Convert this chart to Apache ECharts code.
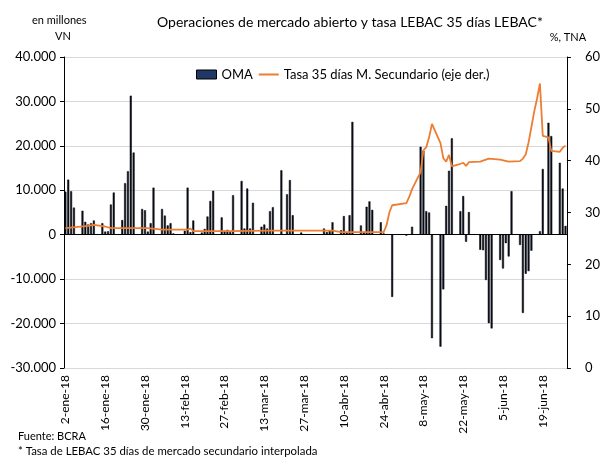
<!DOCTYPE html>
<html>
<head>
<meta charset="utf-8">
<script src="https://cdn.jsdelivr.net/npm/echarts@6/dist/echarts.min.js"></script>
<style>
  html, body { margin: 0; padding: 0; background: #fff; }
  #chart { width: 603px; height: 459px; }
</style>
</head>
<body>
<div id="chart"></div>
<script>
// Operaciones de mercado abierto (OMA) y tasa LEBAC 35 dias
var firstDay = '2018-01-02';
var lastDay = '2018-06-27';
var monthNames = ['ene', 'feb', 'mar', 'abr', 'may', 'jun', 'jul', 'ago', 'sep', 'oct', 'nov', 'dic'];

// OMA, en millones VN (dias habiles con operacion)
var omaDates = [
  '2018-01-02', '2018-01-03', '2018-01-04', '2018-01-05', '2018-01-08', '2018-01-09', '2018-01-10',
  '2018-01-11', '2018-01-12', '2018-01-15', '2018-01-16', '2018-01-17', '2018-01-18', '2018-01-19',
  '2018-01-22', '2018-01-23', '2018-01-24', '2018-01-25', '2018-01-26', '2018-01-29', '2018-01-30',
  '2018-01-31', '2018-02-01', '2018-02-02', '2018-02-05', '2018-02-06', '2018-02-07', '2018-02-08',
  '2018-02-09', '2018-02-13', '2018-02-14', '2018-02-15', '2018-02-16', '2018-02-19', '2018-02-20',
  '2018-02-21', '2018-02-22', '2018-02-23', '2018-02-26', '2018-02-27', '2018-02-28', '2018-03-01',
  '2018-03-02', '2018-03-05', '2018-03-06', '2018-03-07', '2018-03-08', '2018-03-09', '2018-03-12',
  '2018-03-13', '2018-03-14', '2018-03-15', '2018-03-16', '2018-03-19', '2018-03-21', '2018-03-22',
  '2018-03-23', '2018-03-26', '2018-04-03', '2018-04-04', '2018-04-05', '2018-04-06', '2018-04-09',
  '2018-04-10', '2018-04-11', '2018-04-12', '2018-04-13', '2018-04-16', '2018-04-17', '2018-04-18',
  '2018-04-19', '2018-04-20', '2018-04-23', '2018-04-24', '2018-04-27', '2018-05-02', '2018-05-04',
  '2018-05-07', '2018-05-08', '2018-05-09', '2018-05-10', '2018-05-11', '2018-05-14', '2018-05-15',
  '2018-05-16', '2018-05-17', '2018-05-18', '2018-05-21', '2018-05-22', '2018-05-23', '2018-05-24',
  '2018-05-28', '2018-05-29', '2018-05-30', '2018-05-31', '2018-06-01', '2018-06-04', '2018-06-05',
  '2018-06-06', '2018-06-07', '2018-06-08', '2018-06-11', '2018-06-12', '2018-06-13', '2018-06-14',
  '2018-06-15', '2018-06-18', '2018-06-19', '2018-06-21', '2018-06-22', '2018-06-25', '2018-06-26',
  '2018-06-27'
];
var omaValues = [
  9700, 12400, 9800, 6100, 5400, 2900, 2300,
  2600, 3200, 2600, 700, 800, 6800, 9500,
  3300, 11600, 14300, 31300, 18500, 5800, 5500,
  700, 2600, 10600, 5800, 4300, 2100, 2600,
  300, 900, 10600, 600, 3200, 500, 1300,
  4100, 7600, 9900, 3900, 900, 1100, 600,
  8900, 12100, 1400, 10400, 1400, 7200, 1800,
  2300, 1400, 5300, 6200, 14500, 9100, 12300,
  4400, 500, 1400, 600, 1000, 2800, 1000,
  4200, 500, 4400, 25400, 2100, 500, 6300,
  7500, 5600, 2800, 300, -14000, -200, 1800,
  19800, 18900, 5300, 5000, -23300, -25200, -12300,
  6500, 14400, 21700, 5300, 8700, -1600, 5100,
  -3400, -3500, -10200, -19900, -21100, -5700, -7600,
  -1900, -4900, 9800, -2300, -17600, -8800, -8200,
  -3600, 800, 14800, 25200, 22200, 16200, 10400,
  2000
];

// Tasa 35 dias M. Secundario, % TNA (puntos leidos)
var tasaDates = [
  '2018-01-02', '2018-01-10', '2018-01-12', '2018-01-16', '2018-01-18', '2018-01-31', '2018-02-05',
  '2018-02-14', '2018-02-15', '2018-02-16', '2018-03-01', '2018-03-15', '2018-04-06', '2018-04-09',
  '2018-04-24', '2018-04-25', '2018-04-26', '2018-04-27', '2018-05-02', '2018-05-03', '2018-05-04',
  '2018-05-07', '2018-05-08', '2018-05-09', '2018-05-10', '2018-05-11', '2018-05-14', '2018-05-15',
  '2018-05-16', '2018-05-17', '2018-05-18', '2018-05-21', '2018-05-22', '2018-05-23', '2018-05-24',
  '2018-05-28', '2018-05-31', '2018-06-04', '2018-06-07', '2018-06-11', '2018-06-12', '2018-06-13',
  '2018-06-14', '2018-06-15', '2018-06-16', '2018-06-17', '2018-06-18', '2018-06-19', '2018-06-21',
  '2018-06-22', '2018-06-25', '2018-06-26', '2018-06-27'
];
var tasaValues = [
  27.0, 27.4, 27.6, 27.3, 27.0, 27.0, 26.7,
  26.7, 26.9, 26.4, 26.4, 26.5, 26.5, 26.2,
  26.2, 27.5, 30.0, 31.4, 31.8, 33.0, 34.5,
  37.8, 42.0, 42.6, 44.5, 47.1, 43.4, 40.5,
  39.8, 41.1, 38.9, 39.4, 39.6, 39.0, 39.7,
  39.8, 40.4, 40.2, 39.8, 39.9, 40.4, 41.2,
  43.5, 46.5, 49.5, 52.0, 54.9, 44.8, 44.5,
  41.9, 41.7, 42.5, 42.9
];

var leftTicks = { min: -30000, max: 40000, interval: 10000 };
var rightTicks = { min: 0, max: 60, interval: 10 };

(function() {
  var myChart = echarts.init(document.getElementById('chart'), null, { renderer: 'canvas' });
  var font = 'Lato, "Open Sans", sans-serif';

  // categorias: todos los dias calendario
  var days = [], labels = [];
  var t = Date.parse(firstDay + 'T00:00:00Z');
  var tEnd = Date.parse(lastDay + 'T00:00:00Z');
  while (t <= tEnd) {
    var d = new Date(t);
    days.push(d.toISOString().slice(0, 10));
    labels.push(d.getUTCDate() + '-' + monthNames[d.getUTCMonth()] + '-' + String(d.getUTCFullYear()).slice(2));
    t += 86400000;
  }

  var omaData = days.map(function() { return null; });
  omaDates.forEach(function(dt, i) { omaData[days.indexOf(dt)] = omaValues[i]; });
  var tasaData = days.map(function() { return null; });
  tasaDates.forEach(function(dt, i) { tasaData[days.indexOf(dt)] = tasaValues[i]; });

  function miles(v) {
    var s = String(Math.abs(v)).replace(/\B(?=(\d{3})+(?!\d))/g, '.');
    return (v < 0 ? '-' : '') + s;
  }

  var option = {
    animation: false,
    textStyle: { fontFamily: font, color: '#000' },
    title: {
      text: 'Operaciones de mercado abierto y tasa LEBAC 35 días LEBAC*',
      left: 152,
      top: 10,
      textStyle: { fontFamily: font, fontSize: 14, fontWeight: 'normal', color: '#000' }
    },
    legend: {
      left: 191,
      top: 63,
      itemWidth: 20,
      itemHeight: 9,
      itemGap: 6,
      textStyle: { fontFamily: font, fontSize: 13, color: '#000' },
      data: [
        { name: 'OMA', icon: 'rect', itemStyle: { color: '#1f3864', borderColor: '#000', borderWidth: 1 } },
        { name: 'Tasa 35 días M. Secundario (eje der.)', icon: 'path://M0,0 L20,0 L20,2 L0,2 Z' }
      ]
    },
    grid: { left: 64, right: 32, top: 57, bottom: 91, containLabel: false },
    xAxis: {
      type: 'category',
      data: labels,
      boundaryGap: true,
      axisLine: { show: false, onZero: false },
      axisTick: { show: false },
      axisLabel: {
        interval: 13,
        rotate: 90,
        margin: 7,
        fontSize: 12,
        color: '#000',
        fontFamily: font
      },
      splitLine: { show: false }
    },
    yAxis: [
      {
        type: 'value',
        min: leftTicks.min,
        max: leftTicks.max,
        interval: leftTicks.interval,
        axisLine: { show: true, lineStyle: { color: '#000', width: 1 } },
        axisTick: { show: true, inside: false, length: 4, lineStyle: { color: '#000' } },
        axisLabel: { formatter: miles, fontSize: 13, color: '#000', margin: 8, fontFamily: font },
        splitLine: { show: true, lineStyle: { color: '#d9d9d9', width: 1 } }
      },
      {
        type: 'value',
        min: rightTicks.min,
        max: rightTicks.max,
        interval: rightTicks.interval,
        position: 'right',
        name: '%, TNA',
        nameLocation: 'end',
        nameGap: 14,
        nameTextStyle: { fontFamily: font, fontSize: 11, color: '#000', align: 'center', padding: [0, 0, 0, 2] },
        axisLine: { show: true, lineStyle: { color: '#000', width: 1 } },
        axisTick: { show: true, inside: false, length: 4, lineStyle: { color: '#000' } },
        axisLabel: { fontSize: 13, color: '#000', margin: 18, fontFamily: font },
        splitLine: { show: false }
      }
    ],
    graphic: [
      { type: 'text', left: 32, top: 15, style: { text: 'en millones', font: '11px ' + font, fill: '#000' } },
      { type: 'text', left: 55, top: 31, style: { text: 'VN', font: '11px ' + font, fill: '#000' } },
      { type: 'text', left: 18, top: 431, style: { text: 'Fuente: BCRA', font: '11px ' + font, fill: '#000' } },
      { type: 'text', left: 18, top: 446, style: { text: '* Tasa de LEBAC 35 días de mercado secundario interpolada', font: '11.4px ' + font, fill: '#000' } }
    ],
    series: [
      {
        name: 'OMA',
        type: 'bar',
        data: omaData,
        barWidth: 2,
        itemStyle: { color: '#0a0f1f', borderColor: '#000', borderWidth: 0.5 },
        markLine: {
          silent: true,
          symbol: ['none', 'none'],
          label: { show: false },
          lineStyle: { color: '#000', width: 1, type: 'solid' },
          data: [{ yAxis: 0 }]
        }
      },
      {
        name: 'Tasa 35 días M. Secundario (eje der.)',
        type: 'line',
        yAxisIndex: 1,
        data: tasaData,
        connectNulls: true,
        symbol: 'none',
        smooth: false,
        lineStyle: { color: '#ed7d31', width: 1.8 },
        itemStyle: { color: '#ed7d31' },
        z: 5
      }
    ]
  };

  myChart.setOption(option);
})();
</script>
</body>
</html>
